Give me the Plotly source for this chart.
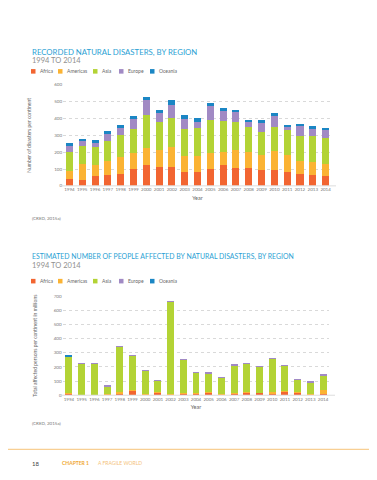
import plotly.graph_objects as go

W, H = 377, 480

years = [str(y) for y in range(1994, 2015)]
regions = ["Africa", "Americas", "Asia", "Europe", "Oceania"]
colors = ["#f26531", "#fbb333", "#b3d335", "#a18ac4", "#1b86c4"]

# Recorded natural disasters per region
dis_africa   = [40, 36, 60, 66, 70, 103, 123, 113, 111, 83, 85, 99, 123, 109, 107, 95, 97, 80, 68, 62, 58]
dis_americas = [51, 95, 63, 81, 101, 94, 102, 98, 120, 96, 94, 96, 78, 104, 96, 86, 108, 101, 81, 79, 73]
dis_asia     = [112, 108, 106, 121, 133, 141, 194, 167, 173, 159, 165, 195, 185, 165, 149, 141, 145, 153, 145, 157, 151]
dis_europe   = [34, 25, 27, 40, 38, 60, 94, 53, 79, 62, 36, 87, 57, 59, 26, 50, 67, 18, 64, 46, 50]
dis_oceania  = [19, 14, 14, 16, 18, 16, 14, 18, 26, 19, 22, 16, 18, 14, 16, 18, 18, 10, 12, 10, 12]

# Estimated people affected (millions)
aff_africa   = [10, 2, 3, 4, 6, 30, 6, 18, 6, 12, 12, 14, 4, 7, 14, 15, 10, 22, 16, 4, 10]
aff_americas = [4, 2, 2, 3, 17, 5, 4, 5, 4, 4, 6, 8, 4, 8, 9, 4, 10, 6, 4, 6, 28]
aff_asia     = [256, 216, 215, 56, 318, 241, 160, 81, 648, 236, 141, 132, 116, 194, 196, 182, 239, 180, 86, 81, 100]
aff_europe   = [2, 1, 1, 5, 2, 6, 2, 1, 2, 2, 2, 2, 2, 3, 2, 2, 2, 2, 1, 2, 4]
aff_oceania  = [5, 0, 0, 0, 0, 0, 0, 0, 0, 0, 0, 0, 0, 0, 0, 0, 0, 0, 0, 0, 0]

dis_series = [dis_africa, dis_americas, dis_asia, dis_europe, dis_oceania]
aff_series = [aff_africa, aff_americas, aff_asia, aff_europe, aff_oceania]

def px(x):
    return x / W

def py(y):
    return 1 - y / H

FONT = "Lato"
TICK = dict(family=FONT, size=4.5, color="#777777")

fig = go.Figure()
for name, col, vals in zip(regions, colors, dis_series):
    fig.add_trace(go.Bar(x=years, y=vals, name=name, marker=dict(color=col, line=dict(width=0)),
                         xaxis="x", yaxis="y", showlegend=False))
for name, col, vals in zip(regions, colors, aff_series):
    fig.add_trace(go.Bar(x=years, y=vals, name=name, marker=dict(color=col, line=dict(width=0)),
                         xaxis="x2", yaxis="y2", showlegend=False))

axis_common = dict(showline=False, ticks="", tickfont=TICK, zeroline=False)

fig.update_layout(
    width=W, height=H,
    margin=dict(l=0, r=0, t=0, b=0),
    paper_bgcolor="white", plot_bgcolor="white",
    barmode="stack", bargap=0.45,
    font=dict(family=FONT, color="#666666"),
    xaxis=dict(domain=[px(55), px(324)], anchor="y", type="category", showgrid=False, tickangle=0,
               **axis_common,
               title=dict(text="Year", font=dict(family=FONT, size=5.5, color="#666666"), standoff=4)),
    yaxis=dict(domain=[py(177.7), py(75.7)], anchor="x", range=[0, 600], dtick=100,
               showgrid=True, gridcolor="#d9d9d9", griddash="dot", gridwidth=0.8, **axis_common,
               title=dict(text="Number of disasters per continent", font=dict(family=FONT, size=5, color="#666666"), standoff=22)),
    xaxis2=dict(domain=[px(54.6), px(321.4)], anchor="y2", type="category", showgrid=False, tickangle=0,
                **axis_common,
                title=dict(text="Year", font=dict(family=FONT, size=5.5, color="#666666"), standoff=4)),
    yaxis2=dict(domain=[py(389.3), py(289.3)], anchor="x2", range=[0, 700], dtick=100,
                showgrid=True, gridcolor="#d9d9d9", griddash="dot", gridwidth=0.8, **axis_common,
                title=dict(text="Total affected persons per continent in millions", font=dict(family=FONT, size=5, color="#666666"), standoff=16)),
)

shapes = []
annotations = []

def text(x, y, s, size, color, bold=False, xanchor="left"):
    annotations.append(dict(x=px(x), y=py(y), xref="paper", yref="paper", text=s, showarrow=False,
                            xanchor=xanchor, yanchor="middle",
                            font=dict(family=FONT, size=size, color=color, weight="bold" if bold else "normal")))

# baselines
for x0, x1, y0 in [(53, 328, 177.7), (52, 327, 389.3)]:
    shapes.append(dict(type="line", xref="paper", yref="paper", x0=px(x0), x1=px(x1), y0=py(y0), y1=py(y0),
                       line=dict(color="#dddddd", width=1)))

# titles
text(22, 42, "RECORDED NATURAL DISASTERS, BY REGION", 7.8, "#2b9fd4")
text(22, 51, "1994 TO 2014", 7.5, "#8f8f8f")
text(22, 249, "ESTIMATED NUMBER OF PEOPLE AFFECTED BY NATURAL DISASTERS, BY REGION", 6.9, "#2b9fd4")
text(22, 258, "1994 TO 2014", 7.5, "#8f8f8f")

# legends
legend_x = [23, 50, 85, 111, 142]
for ly in [62, 274]:
    for lx, name, col in zip(legend_x, regions, colors):
        shapes.append(dict(type="rect", xref="paper", yref="paper", x0=px(lx), x1=px(lx + 4.5),
                           y0=py(ly + 2.3), y1=py(ly - 2.3), fillcolor=col, line=dict(width=0)))
        text(lx + 7, ly, name, 5, "#666666")

# sources
text(22, 211, "(CRED, 2015a)", 4.5, "#777777")
text(22, 418, "(CRED, 2015a)", 4.5, "#777777")

# footer
shapes.append(dict(type="line", xref="paper", yref="paper", x0=0, x1=1, y0=py(444), y1=py(444),
                   line=dict(color="#f8cf93", width=1.2)))
text(22, 458, "18", 6, "#444444")
text(52, 458, "CHAPTER 1", 5, "#f0a830", bold=True)
text(88, 458, "A FRAGILE WORLD", 5, "#f4c27a")

fig.update_layout(shapes=shapes, annotations=annotations)
fig.write_html("out.html")
